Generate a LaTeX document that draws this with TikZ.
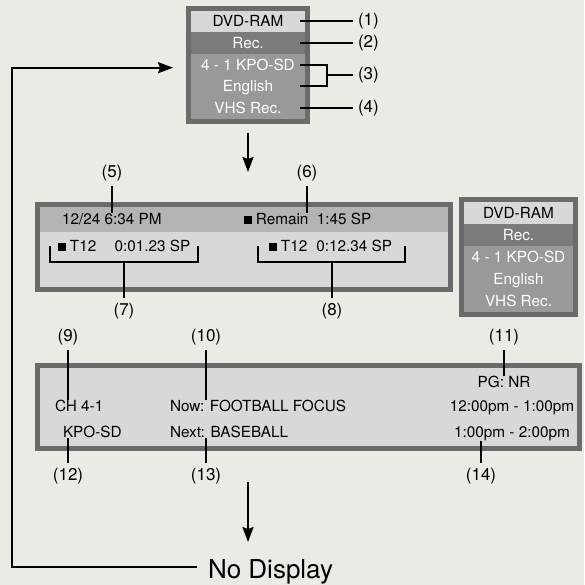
\documentclass[tikz,border=0pt]{standalone}
\usepackage{fontspec}
\setmainfont{TeX Gyre Heros}
\usetikzlibrary{arrows.meta,positioning,fit,backgrounds,calc}
\definecolor{paper}{RGB}{236,234,229}
\definecolor{bezel}{RGB}{107,107,107}
\definecolor{pale}{RGB}{216,216,216}
\definecolor{dim}{RGB}{123,123,123}
\definecolor{midgray}{RGB}{153,153,153}
\definecolor{band}{RGB}{180,180,180}
\newcommand{\sqmark}{\raisebox{1pt}{\rule{0.5em}{0.5em}}}

\begin{document}
\begin{tikzpicture}[
  x=1pt, y=-1pt,
  every node/.style={font=\fontsize{15.3}{18}\selectfont, inner sep=0pt, outer sep=0pt},
  row/.style={minimum width=114pt, minimum height=21.6pt, text height=11pt, text depth=0pt},
  rowlt/.style={row, fill=pale, text=black},
  rowdk/.style={row, fill=dim, text=white},
  rowmd/.style={row, fill=midgray, text=white},
  bezelbox/.style={fill=bezel, inner sep=5pt},
  panel/.style={draw=bezel, line width=5pt, fill=pale},
  callout/.style={font=\fontsize{17}{20}\selectfont, inner sep=5pt},
  lead/.style={line width=2pt},
  flow/.style={line width=2pt, -{Stealth[length=15pt,width=11pt,inset=2pt]}}
]
\useasboundingbox (0,0) rectangle (584,585);

% top menu
\node[rowlt] (dvd) at (248,21.5) {DVD-RAM};
\node[rowdk, below=0pt of dvd] (rec) {Rec.};
\node[rowmd, below=0pt of rec] (kpo) {4 - 1 KPO-SD};
\node[rowmd, below=0pt of kpo] (eng) {English};
\node[rowmd, below=0pt of eng] (vhs) {VHS Rec.};

% small menu on the right
\node[rowlt, minimum width=109pt, minimum height=22pt] (dvdB) at (518.5,213) {DVD-RAM};
\node[rowdk, minimum width=109pt, minimum height=22pt, below=0pt of dvdB] (recB) {Rec.};
\node[rowmd, minimum width=109pt, minimum height=22pt, below=0pt of recB] (kpoB) {4 - 1 KPO-SD};
\node[rowmd, minimum width=109pt, minimum height=22pt, below=0pt of kpoB] (engB) {English};
\node[rowmd, minimum width=109pt, minimum height=22pt, below=0pt of engB] (vhsB) {VHS Rec.};

\begin{scope}[on background layer]
  \fill[paper] (0,0) rectangle (584,585);
  \node[bezelbox, fit=(dvd)(vhs)] (menu) {};
  \node[bezelbox, fit=(dvdB)(vhsB)] (menuB) {};
\end{scope}

% recording status panel
\node[panel, minimum width=413pt, minimum height=85pt] (osd) at (244,247) {};
\node[fill=band, minimum width=408pt, minimum height=25pt, anchor=north] (osdbar) at ([yshift=-2.5pt]osd.north) {};
\node[anchor=base west] (clock) at (62,224.5) {12/24 6:34 PM};
\node[anchor=base west] (remain) at (244,224.5) {\sqmark\ Remain\hspace{0.55em}1:45 SP};
\node[anchor=base west] (trkA) at (58,251.5) {\sqmark\ T12\hspace{1.2em}0:01.23 SP};
\node[anchor=base west] (trkB) at (269,251.5) {\sqmark\ T12\hspace{0.6em}0:12.34 SP};

% program guide panel
\node[panel, minimum width=542pt, minimum height=83pt] (epg) at (308.5,407) {};
\node[anchor=base west] (chan) at (55,411.5) {CH 4-1};
\node[anchor=base west] (stn) at (63,437.5) {KPO-SD};
\node[anchor=base west] (now) at (170,411.5) {Now: FOOTBALL FOCUS};
\node[anchor=base west] (next) at (170,437.5) {Next: BASEBALL};
\node[anchor=base] (rating) at (504,387.5) {PG: NR};
\node[anchor=base] (slotA) at (512,411.5) {12:00pm - 1:00pm};
\node[anchor=base] (slotB) at (512,437.5) {1:00pm - 2:00pm};

\node[anchor=base west, font=\fontsize{26}{30}\selectfont] (nodisp) at (208,578) {No Display};

% callouts
\coordinate[right=22pt of $(kpo.east)!0.5!(eng.east)$] (knot);
\node[callout, right=48pt of dvd] (c1) {(1)};
\node[callout, right=48pt of rec] (c2) {(2)};
\node[callout, right=26pt of knot] (c3) {(3)};
\node[callout, right=48pt of vhs] (c4) {(4)};
\node[callout] (c5) at (112,173) {(5)};
\node[callout] (c6) at (307,173) {(6)};
\node[callout] (c7) at (124,311) {(7)};
\node[callout] (c8) at (332,311) {(8)};
\node[callout] (c9) at (68,337) {(9)};
\node[callout] (c10) at (206,337) {(10)};
\node[callout] (c11) at (504,337) {(11)};
\node[callout] (c12) at (68,476) {(12)};
\node[callout] (c13) at (206,476) {(13)};
\node[callout] (c14) at (481,476) {(14)};

\draw[lead] ([xshift=-5pt]dvd.east) -- (c1);
\draw[lead] ([xshift=-5pt]rec.east) -- (c2);
\draw[lead] ([xshift=-5pt]kpo.east) -| (knot) |- ([xshift=-5pt]eng.east);
\draw[lead] (knot) -- (c3);
\draw[lead] ([xshift=-5pt]vhs.east) -- (c4);

\draw[lead] (c5) -- (c5 |- clock.north);
\draw[lead] (c6) -- (c6 |- remain.north);
\draw[lead] ([xshift=-8pt]trkA.west) -- ++(0,16) coordinate (b7) -| ([xshift=8pt]trkA.east);
\draw[lead] (c7) -- (c7 |- b7);
\draw[lead] ([xshift=-11pt]trkB.west) -- ++(0,16) coordinate (b8) -| ([xshift=13pt]trkB.east);
\draw[lead] (c8) -- (c8 |- b8);

\draw[lead] (c9) -- (c9 |- chan.north);
\draw[lead] (c10) -- (c10 |- now.north);
\draw[lead] (c11) -- (c11 |- rating.north);
\draw[lead] (c12) -- (c12 |- stn.south);
\draw[lead] (c13) -- (c13 |- next.south);
\draw[lead] (c14) -- (c14 |- slotB.south);

% flow
\draw[flow, shorten <=9pt, shorten >=32.5pt] (menu.south) -- (menu.south |- osd.north);
\draw[flow, shorten <=33.5pt, shorten >=17pt] (menu.south |- epg.south) -- (menu.south |- nodisp.north);
\draw[flow, shorten >=13pt] ([xshift=-11pt,yshift=4.4pt]nodisp.west) -- ++(-185,0) |- ([yshift=-3pt]menu.west);
\end{tikzpicture}
\end{document}
